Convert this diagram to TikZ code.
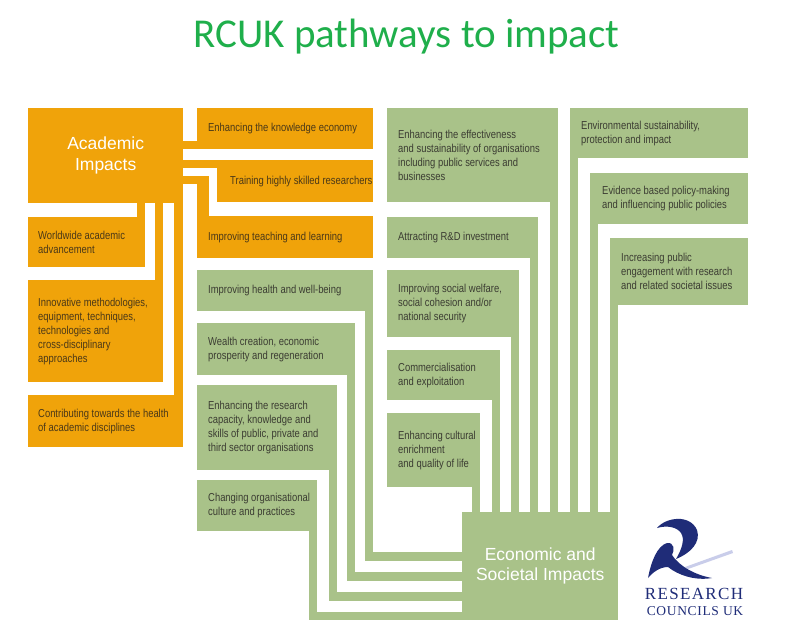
\documentclass[tikz,border=0pt]{standalone}
\usepackage{fontspec}
\usetikzlibrary{calc}
\newfontfamily\titlefont{Carlito}
\newfontfamily\boxfont[FakeStretch=0.82]{Liberation Sans}
\newfontfamily\hubfont{Liberation Sans}
\newfontfamily\logofontA[LetterSpace=8]{Liberation Serif}
\newfontfamily\logofontB[LetterSpace=5]{Liberation Serif}
\definecolor{orgc}{HTML}{F0A30A}
\definecolor{grnc}{HTML}{A9C289}
\definecolor{ttlg}{HTML}{1FAF4B}
\definecolor{otxt}{HTML}{4A3818}
\definecolor{gtxt}{HTML}{3B3C32}
\definecolor{navy}{HTML}{1F2C78}
\definecolor{lav}{HTML}{C9CDEA}
\tikzset{
  obox/.style={fill=orgc, inner sep=0pt, anchor=north west},
  gbox/.style={fill=grnc, inner sep=0pt, anchor=north west},
  otext/.style={anchor=west, inner sep=0pt, align=left, text=otxt, font=\boxfont\fontsize{11.5}{14}\selectfont},
  gtext/.style={anchor=west, inner sep=0pt, align=left, text=gtxt, font=\boxfont\fontsize{11.5}{14}\selectfont},
  hubtext/.style={inner sep=0pt, align=center, text=white, font=\hubfont\fontsize{17.5}{20.5}\selectfont},
  oband/.style={fill=orgc},
  gband/.style={fill=grnc}
}
\begin{document}
\begin{tikzpicture}[x=1pt,y=-1pt]
\fill[white] (0,0) rectangle (799,626);
\useasboundingbox (0,0) rectangle (799,626);

% title
\node[anchor=base, inner sep=0pt, text=ttlg, font=\titlefont\fontsize{41}{41}\selectfont] (title) at (406.5,48) {RCUK pathways to impact};

% ---------- orange: academic ----------
\node[obox, minimum width=155pt, minimum height=95pt] (A) at (28,108) {};
\node[obox, minimum width=176pt, minimum height=41pt] (KE) at (197,108) {};
\node[obox, minimum width=156pt, minimum height=42pt] (TR) at (217,160) {};
\node[obox, minimum width=176pt, minimum height=42pt] (TL) at (197,216) {};
\node[obox, minimum width=117pt, minimum height=50pt] (WW) at (28,217) {};
\node[obox, minimum width=135pt, minimum height=102pt] (IN) at (28,280) {};
\node[obox, minimum width=155pt, minimum height=52pt] (CT) at (28,395) {};
% orange bands
\fill[oband] (183,141) rectangle (197,149);
\fill[oband] (183,160) rectangle (217,168);
\fill[oband] (183,176) rectangle (209,184);
\fill[oband] (197,176) rectangle (209,216);
\fill[oband] (137,203) rectangle (145,217);
\fill[oband] (155,203) rectangle (163,280);
\fill[oband] (174,203) rectangle (183,395);

% ---------- green: economic and societal ----------
\node[gbox, minimum width=176pt, minimum height=41pt] (HL) at (197,270) {};
\node[gbox, minimum width=158pt, minimum height=52pt] (WC) at (197,323) {};
\node[gbox, minimum width=140pt, minimum height=85pt] (RC) at (197,385) {};
\node[gbox, minimum width=120pt, minimum height=51pt] (CO) at (197,480) {};
\node[gbox, minimum width=171pt, minimum height=94pt] (EF) at (387,108) {};
\node[gbox, minimum width=151pt, minimum height=41pt] (AR) at (387,217) {};
\node[gbox, minimum width=132pt, minimum height=67pt] (SW) at (387,270) {};
\node[gbox, minimum width=113pt, minimum height=50pt] (CM) at (387,350) {};
\node[gbox, minimum width=93pt, minimum height=74pt] (CU) at (387,413) {};
\node[gbox, minimum width=178pt, minimum height=50pt] (EN) at (570,108) {};
\node[gbox, minimum width=158pt, minimum height=51pt] (EV) at (590,173) {};
\node[gbox, minimum width=138pt, minimum height=67pt] (IP) at (610,238) {};
\node[gbox, minimum width=156pt, minimum height=108pt] (EC) at (462,512) {};
% green bands, left group (down then right)
\fill[gband] (365,311) rectangle (373,561);
\fill[gband] (365,552) rectangle (462,561);
\fill[gband] (347,375) rectangle (355,581);
\fill[gband] (347,572) rectangle (462,581);
\fill[gband] (329,470) rectangle (337,601);
\fill[gband] (329,592) rectangle (462,601);
\fill[gband] (309,531) rectangle (317,620);
\fill[gband] (309,612) rectangle (462,620);
% green bands, vertical into top of hub
\fill[gband] (550,202) rectangle (558,512);
\fill[gband] (530,258) rectangle (538,512);
\fill[gband] (511,337) rectangle (519,512);
\fill[gband] (492,400) rectangle (500,512);
\fill[gband] (472,487) rectangle (480,512);
\fill[gband] (570,158) rectangle (578,512);
\fill[gband] (590,224) rectangle (598,512);
\fill[gband] (610,305) rectangle (618,512);

% ---------- texts ----------
\node[hubtext] (At) at (A.center) {Academic\\Impacts};
\node[hubtext] (ECt) at (EC.center) {Economic and\\Societal Impacts};

\node[otext] (KEt) at ([xshift=11pt]KE.west) {Enhancing the knowledge economy};
\node[otext] (TRt) at ([xshift=13pt]TR.west) {Training highly skilled researchers};
\node[otext] (TLt) at ([xshift=11pt]TL.west) {Improving teaching and learning};
\node[otext] (WWt) at ([xshift=10pt]WW.west) {Worldwide academic\\advancement};
\node[otext] (INt) at ([xshift=10pt]IN.west) {Innovative methodologies,\\equipment, techniques,\\technologies and\\cross-disciplinary\\approaches};
\node[otext] (CTt) at ([xshift=10pt]CT.west) {Contributing towards the health\\of academic disciplines};

\node[gtext] (HLt) at ([xshift=11pt]HL.west) {Improving health and well-being};
\node[gtext] (WCt) at ([xshift=11pt]WC.west) {Wealth creation, economic\\prosperity and regeneration};
\node[gtext] (RCt) at ([xshift=11pt]RC.west) {Enhancing the research\\capacity, knowledge and\\skills of public, private and\\third sector organisations};
\node[gtext] (COt) at ([xshift=11pt]CO.west) {Changing organisational\\culture and practices};
\node[gtext] (EFt) at ([xshift=11pt]EF.west) {Enhancing the effectiveness\\and sustainability of organisations\\including public services and\\businesses};
\node[gtext] (ARt) at ([xshift=11pt]AR.west) {Attracting R\&D investment};
\node[gtext] (SWt) at ([xshift=11pt]SW.west) {Improving social welfare,\\social cohesion and/or\\national security};
\node[gtext] (CMt) at ([xshift=11pt]CM.west) {Commercialisation\\and exploitation};
\node[gtext] (CUt) at ([xshift=11pt]CU.west) {Enhancing cultural\\enrichment\\and quality of life};
\node[gtext] (ENt) at ([xshift=11pt]EN.west) {Environmental sustainability,\\protection and impact};
\node[gtext] (EVt) at ([xshift=12pt]EV.west) {Evidence based policy-making\\and influencing public policies};
\node[gtext] (IPt) at ([xshift=11pt]IP.west) {Increasing public\\engagement with research\\and related societal issues};

% ---------- logo ----------
\fill[lav] (685,567) -- (732,550) -- (733,553) -- (688,569) -- cycle;
\fill[navy] (657,528) .. controls (666,517) and (690,514) .. (697,530)
  .. controls (701,542) and (691,553) .. (676,559)
  .. controls (682,549) and (685,539) .. (681,533)
  .. controls (677,527) and (667,525) .. (657,528) -- cycle;
\fill[navy] (648,578) .. controls (651,562) and (657,546) .. (667,543)
  .. controls (674,542) and (675,550) .. (672,555)
  .. controls (679,566) and (695,575) .. (712,578)
  .. controls (695,581) and (678,575) .. (668,567)
  .. controls (660,567) and (653,572) .. (648,578) -- cycle;
\node[anchor=base, inner sep=0pt, text=navy, font=\logofontA\fontsize{17}{17}\selectfont] (rsch) at (694,599) {RESEARCH};
\node[anchor=base, inner sep=0pt, text=navy, font=\logofontB\fontsize{13.5}{13.5}\selectfont] (cncl) at (695,615) {COUNCILS UK};
\end{tikzpicture}
\end{document}
